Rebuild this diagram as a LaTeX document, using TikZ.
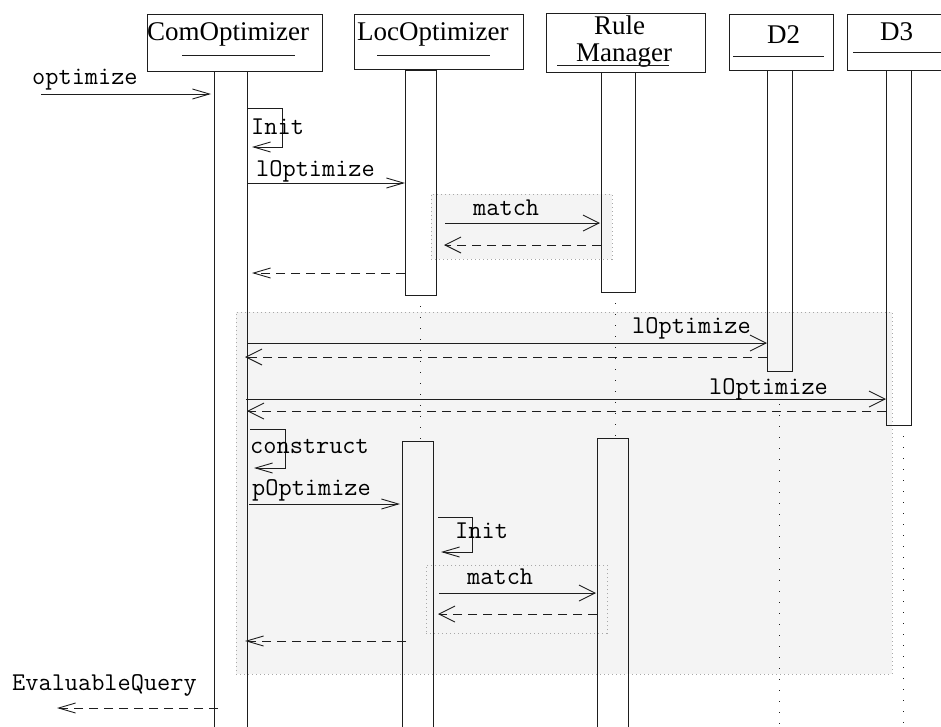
\documentclass[tikz,border=0pt]{standalone}
\usepackage{fontspec}
\setmainfont{Liberation Serif}
\usetikzlibrary{arrows.meta}
\definecolor{boxgray}{HTML}{F4F4F4}
\definecolor{dotgray}{HTML}{A8A8A8}
\definecolor{ink}{HTML}{1E1E1E}
\begin{document}
\begin{tikzpicture}[x=1pt,y=-1pt,
  hdr/.style={draw=ink, line width=0.9pt, rectangle, inner sep=0pt},
  hdrtext/.style={font=\fontsize{27}{26}\selectfont, inner sep=0pt, anchor=base west},
  uline/.style={draw=ink, line width=0.9pt},
  bar/.style={draw=ink, line width=0.9pt, rectangle, inner sep=0pt},
  lifeline/.style={draw=ink, line width=0.9pt, dash pattern=on 1.3pt off 9.7pt},
  frag/.style={draw=dotgray, fill=boxgray, line width=0.8pt, dash pattern=on 1pt off 3pt, rectangle, inner sep=0pt},
  msg/.style={font=\ttfamily\fontsize{25.6}{25.6}\selectfont, inner sep=0pt, anchor=base west},
  call/.style={draw=ink, line width=0.9pt, -{Straight Barb[length=17pt,width=10pt]}},
  bigcall/.style={draw=ink, line width=0.9pt, -{Straight Barb[length=16pt,width=16pt]}},
  ret/.style={call, dash pattern=on 9pt off 6pt},
  bigret/.style={bigcall, dash pattern=on 9pt off 6pt},
]
\path[use as bounding box, clip] (0,0) rectangle (941,726);

% combined fragments
\node[frag, minimum width=656pt, minimum height=362pt] (fragBig) at (564,493) {};
\node[frag, minimum width=181pt, minimum height=65pt] (fragM1) at (521.5,226.5) {};
\node[frag, minimum width=181pt, minimum height=68pt] (fragM2) at (516.5,599) {};

% activation bars
\node[bar, minimum width=33pt, minimum height=669pt] (bCom) at (230.5,405.5) {};
\node[bar, minimum width=31pt, minimum height=225pt] (bLoc1) at (420.5,182.5) {};
\node[bar, minimum width=31pt, minimum height=299pt] (bLoc2) at (417.5,590.5) {};
\node[bar, minimum width=34pt, minimum height=220pt] (bRM1) at (618,182) {};
\node[bar, minimum width=31pt, minimum height=302pt] (bRM2) at (612.5,589) {};
\node[bar, minimum width=25pt, minimum height=301pt] (bD2) at (779.5,220.5) {};
\node[bar, minimum width=25pt, minimum height=355pt] (bD3) at (898.5,247.5) {};

% lifelines
\coordinate (llLocA) at (420.5,295); \coordinate (llLocB) at (420.5,441);
\coordinate (llRMA) at (615,292);    \coordinate (llRMB) at (615,438);
\coordinate (llD2A) at (779.5,371);  \coordinate (llD2B) at (779.5,730);
\coordinate (llD3A) at (903,425);    \coordinate (llD3B) at (903,730);
\draw[lifeline] (llLocA) -- (llLocB);
\draw[lifeline] (llRMA) -- (llRMB);
\draw[lifeline] (llD2A) -- (llD2B);
\draw[lifeline] (llD3A) -- (llD3B);

% headers
\node[hdr, minimum width=175pt, minimum height=57pt, fill=white] (hCom) at (234.5,42.5) {};
\node[hdr, minimum width=169pt, minimum height=55pt, fill=white] (hLoc) at (438.5,41.5) {};
\node[hdr, minimum width=159pt, minimum height=59pt, fill=white] (hRM) at (625.5,42.5) {};
\node[hdr, minimum width=104pt, minimum height=56pt, fill=white] (hD2) at (781,42) {};
\node[hdr, minimum width=113pt, minimum height=56pt, fill=white] (hD3) at (903.5,42) {};
\node[hdrtext] (tCom) at (147,40) {ComOptimizer};
\node[hdrtext] (tLoc) at (357,40) {LocOptimizer};
\node[hdrtext] (tRule) at (594,34) {Rule};
\node[hdrtext] (tMan) at (576,61) {Manager};
\node[hdrtext] (tD2) at (767,43) {D2};
\node[hdrtext] (tD3) at (880,40) {D3};
\draw[uline] (182,55) -- (295,55);
\draw[uline] (377,55) -- (490,55);
\draw[uline] (557,65) -- (669,65);
\draw[uline] (733,56) -- (824,56);
\draw[uline] (853,52) -- (945,52);

% messages
\coordinate (optS) at (41,94);   \coordinate (optE) at (211,94);
\draw[call] (optS) -- (optE);
\node[msg] (lOpt) at (32,84) {optimize};

\coordinate (i1S) at (247,108); \coordinate (i1C) at (282,147); \coordinate (i1E) at (252,147);
\draw[call] (i1S) -| (i1C) -- (i1E);
\node[msg] (lI1) at (251,134) {Init};

\coordinate (lo1S) at (247,183); \coordinate (lo1E) at (405,183);
\draw[call] (lo1S) -- (lo1E);
\node[msg] (llo1) at (256,176) {lOptimize};

\coordinate (m1S) at (445,223); \coordinate (m1E) at (600,223);
\draw[bigcall] (m1S) -- (m1E);
\node[msg] (lm1) at (473,215) {match};
\coordinate (m1rS) at (601,245); \coordinate (m1rE) at (444,245);
\draw[bigret] (m1rS) -- (m1rE);

\coordinate (r1S) at (405,273); \coordinate (r1E) at (252,273);
\draw[ret] (r1S) -- (r1E);

\coordinate (d2S) at (247,343); \coordinate (d2E) at (767,343);
\draw[bigcall] (d2S) -- (d2E);
\node[msg] (ld2) at (632,333) {lOptimize};
\coordinate (d2rS) at (767,357); \coordinate (d2rE) at (245,357);
\draw[bigret] (d2rS) -- (d2rE);

\coordinate (d3S) at (246,399); \coordinate (d3E) at (886,399);
\draw[bigcall] (d3S) -- (d3E);
\node[msg] (ld3) at (709,394) {lOptimize};
\coordinate (d3rS) at (886,411); \coordinate (d3rE) at (247,411);
\draw[bigret] (d3rS) -- (d3rE);

\coordinate (cS) at (250,429); \coordinate (cC) at (285,468); \coordinate (cE) at (254,468);
\draw[call] (cS) -| (cC) -- (cE);
\node[msg] (lc) at (250,453) {construct};

\coordinate (pS) at (249,504); \coordinate (pE) at (400,504);
\draw[call] (pS) -- (pE);
\node[msg] (lp) at (252,495) {pOptimize};

\coordinate (i2S) at (438,517); \coordinate (i2C) at (472,552); \coordinate (i2E) at (441,552);
\draw[call] (i2S) -| (i2C) -- (i2E);
\node[msg] (lI2) at (455,538) {Init};

\coordinate (m2S) at (439,593); \coordinate (m2E) at (596,593);
\draw[bigcall] (m2S) -- (m2E);
\node[msg] (lm2) at (467,584) {match};
\coordinate (m2rS) at (597,614); \coordinate (m2rE) at (438,614);
\draw[bigret] (m2rS) -- (m2rE);

\coordinate (r2S) at (406,641); \coordinate (r2E) at (245,641);
\draw[ret] (r2S) -- (r2E);

\coordinate (eqS) at (218,708); \coordinate (eqE) at (57,708);
\draw[ret] (eqS) -- (eqE);
\node[msg] (leq) at (12,690) {EvaluableQuery};
\end{tikzpicture}
\end{document}
